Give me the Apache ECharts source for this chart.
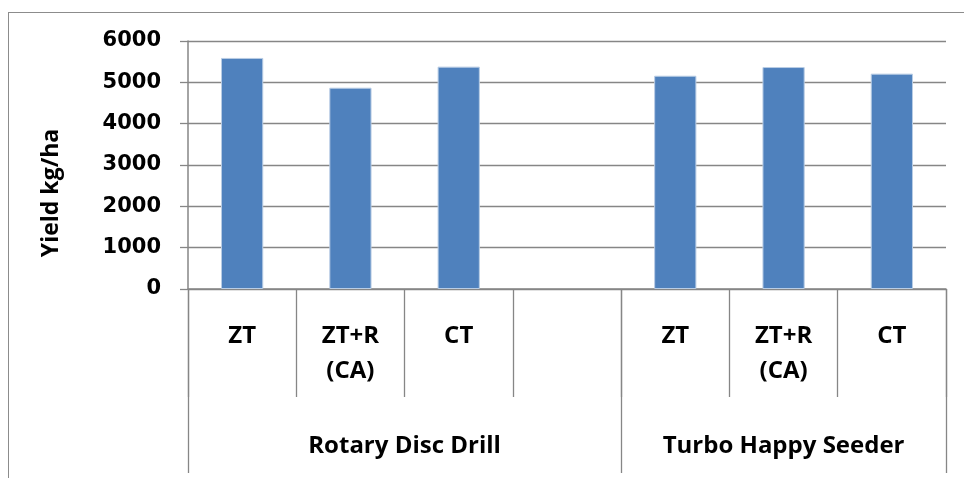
<!DOCTYPE html>
<html>
<head>
<meta charset="utf-8">
<script src="https://cdn.jsdelivr.net/npm/echarts@6/dist/echarts.min.js"></script>
<style>
  html, body { margin: 0; padding: 0; background: #fff; overflow: hidden; }
  #frame { position: absolute; left: 8px; top: 12px; width: 1100px; height: 600px; border: 1px solid #8c8c8c; }
  #chart { position: absolute; left: 0; top: 0; width: 964px; height: 478px; }
</style>
</head>
<body>
<div id="frame"></div>
<div id="chart"></div>
<script>
// chart data
const methods = ['ZT', 'ZT+R\n(CA)', 'CT', '', 'ZT', 'ZT+R\n(CA)', 'CT'];
const yields = [5590, 4870, 5380, null, 5160, 5370, 5210];
const groups = ['Rotary Disc Drill', 'Turbo Happy Seeder'];
const groupBounds = [0, 4, 7];
const groupCenters = [2, 5.5];

const gray = '#868686';
const labelFont = '"Open Sans", "Liberation Sans", sans-serif';

const chart = echarts.init(document.getElementById('chart'));

chart.setOption({
  animation: false,
  grid: { left: 188, right: 18, top: 41, bottom: 189 },
  xAxis: [
    {
      type: 'category',
      data: methods,
      boundaryGap: true,
      axisLine: { show: true, lineStyle: { color: gray, width: 1.5 } },
      axisTick: { show: true, interval: 0, length: 108, lineStyle: { color: gray, width: 1.3 } },
      axisLabel: {
        interval: 0,
        margin: 30,
        color: '#000',
        fontFamily: labelFont,
        fontWeight: 'bold',
        fontSize: 24,
        lineHeight: 35,
        verticalAlign: 'top'
      }
    },
    {
      type: 'value',
      position: 'bottom',
      min: 0,
      max: 7,
      axisLine: { show: false },
      splitLine: { show: false },
      axisTick: {
        show: true,
        customValues: groupBounds,
        length: 184,
        lineStyle: { color: gray, width: 1.3 }
      },
      axisLabel: {
        customValues: groupCenters,
        formatter: v => groups[groupCenters.indexOf(v)],
        margin: 140,
        color: '#000',
        fontFamily: labelFont,
        fontWeight: 'bold',
        fontSize: 24,
        lineHeight: 35,
        verticalAlign: 'top'
      }
    }
  ],
  yAxis: {
    type: 'value',
    min: 0,
    max: 6000,
    interval: 1000,
    name: 'Yield kg/ha',
    nameLocation: 'middle',
    nameGap: 125,
    nameTextStyle: {
      color: '#000',
      fontFamily: labelFont,
      fontWeight: 'bold',
      fontSize: 23,
      padding: [0, 56, 0, 0]
    },
    axisLine: { show: true, lineStyle: { color: gray, width: 1.5 } },
    axisTick: { show: true, length: 8, lineStyle: { color: gray, width: 1.3 } },
    splitLine: { lineStyle: { color: gray, width: 1.3 } },
    axisLabel: {
      margin: 27,
      formatter: v => String(v),
      color: '#000',
      fontFamily: '"DejaVu Sans", sans-serif',
      fontWeight: 'bold',
      fontSize: 21
    }
  },
  series: [
    {
      type: 'bar',
      data: yields,
      barWidth: '39%',
      itemStyle: { color: '#4f81bd', borderColor: '#b9cde5', borderWidth: 1 }
    }
  ]
});
</script>
</body>
</html>
